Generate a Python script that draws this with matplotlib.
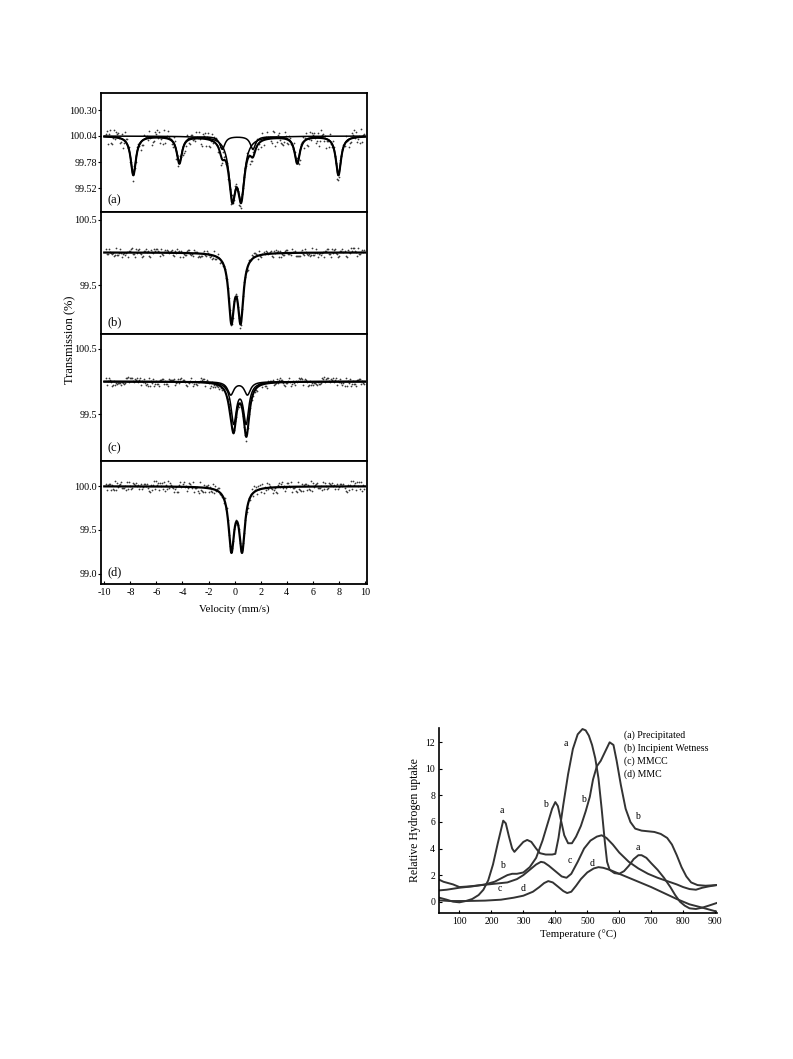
import numpy as np
import matplotlib
matplotlib.use("Agg")
import matplotlib.pyplot as plt

plt.rcParams["font.family"] = ["Liberation Serif", "DejaVu Serif"]

# ── Mössbauer spectra: Lorentzian fit parameters ─────────────────────────────
# (position mm/s, depth %, half width mm/s)
VEL_TICKS = [-10, -8, -6, -4, -2, 0, 2, 4, 6, 8, 10]

A_BASE = 100.04
A_SEXTET_POS = [-7.77, -4.24, -0.95, 1.40, 4.80, 7.96]
A_SEXTET_DEPTH = [0.39, 0.27, 0.13, 0.13, 0.27, 0.39]
A_SEXTET_HW = 0.24
A_DOUBLET_POS = [-0.18, 0.50]
A_DOUBLET_DEPTH = [0.56, 0.56]
A_DOUBLET_HW = 0.31
A_YTICKS = [99.52, 99.78, 100.04, 100.30]
A_YLIM = (99.28, 100.47)

B_BASE = 100.0
B_POS = [-0.25, 0.46]
B_DEPTH = [0.99, 0.99]
B_HW = 0.255
B_YTICKS = [99.5, 100.5]
B_YLIM = (98.75, 100.62)

C_BASE = 100.0
C_MAIN_POS = [-0.07, 0.88]
C_MAIN_DEPTH = [0.62, 0.62]
C_MAIN_HW = 0.25
C_MINOR_POS = [-0.30, 0.98]
C_MINOR_DEPTH = [0.20, 0.20]
C_MINOR_HW = 0.28
C_YTICKS = [99.5, 100.5]
C_YLIM = (98.78, 100.73)

D_BASE = 100.0
D_POS = [-0.25, 0.57]
D_DEPTH = [0.70, 0.70]
D_HW = 0.26
D_YTICKS = [99.0, 99.5, 100.0]
D_YLIM = (98.88, 100.29)

# hand-typed scatter of the counting data around the fit (in units of the noise level)
NOISE = [0.3, -0.6, 0.9, -0.2, 0.1, -0.9, 0.5, 0.7, -0.4, -0.1, 0.8, -0.7, 0.2,
         0.4, -0.8, 0.6, -0.3, 0.0, 0.9, -0.5, -0.2, 0.3, -1.0, 0.7, 0.1, -0.6,
         0.4, -0.1, 0.8, -0.4, 0.5, -0.9, 0.2, 0.6, -0.3, -0.7, 1.0, 0.0, -0.5,
         0.3, -0.2, 0.7, -0.8, 0.4, 0.1, -0.4, 0.9, -0.6, 0.2, -0.1, 0.5, -0.9,
         0.6, 0.3, -0.7, 0.0, 0.8, -0.3, -0.5, 0.4, 0.1, -0.8, 0.7, -0.2, 0.3,
         -0.6, 0.9, 0.2, -0.4, -0.1, 0.6, -1.0, 0.5, 0.0, -0.3, 0.8, -0.7, 0.4,
         -0.2, 0.1, 0.7, -0.5, 0.3, -0.9, 0.6, -0.1, 0.2, -0.6, 0.9, -0.4, 0.5,
         0.0, -0.8, 0.3, -0.2, 0.7, -0.5]
NOISE_LEVEL = [0.085, 0.07, 0.07, 0.065]
N_CHANNELS = 256

# ── TPR profiles (temperature °C, relative H2 uptake) ───────────────────────
T_A = [37, 60, 80, 100, 120, 140, 160, 175, 190, 205, 220, 230, 237, 245, 255,
       265, 272, 285, 300, 312, 325, 340, 352, 370, 390, 400, 410, 425, 440,
       455, 470, 485, 495, 505, 515, 525, 535, 545, 555, 562, 570, 585, 600,
       615, 630, 645, 660, 670, 685, 700, 720, 740, 760, 775, 790, 805, 820,
       840, 860, 880, 905]
H_A = [0.3, 0.15, 0.0, -0.05, 0.05, 0.2, 0.5, 0.9, 1.6, 2.8, 4.4, 5.4, 6.1, 5.9,
       4.9, 4.0, 3.75, 4.1, 4.5, 4.65, 4.5, 4.0, 3.65, 3.55, 3.55, 3.6, 4.8,
       7.3, 9.6, 11.5, 12.6, 13.0, 12.9, 12.5, 11.8, 10.8, 9.3, 7.0, 4.5, 3.0,
       2.4, 2.15, 2.1, 2.3, 2.7, 3.2, 3.5, 3.5, 3.3, 2.9, 2.4, 1.8, 1.1, 0.5,
       0.0, -0.3, -0.5, -0.55, -0.45, -0.3, -0.1]

T_B = [37, 60, 100, 140, 180, 210, 230, 250, 265, 280, 300, 320, 340, 360, 375,
       390, 400, 408, 418, 428, 440, 452, 465, 480, 495, 508, 518, 530, 542,
       556, 570, 582, 592, 605, 620, 635, 650, 670, 690, 710, 730, 750, 765,
       780, 795, 810, 825, 845, 870, 905]
H_B = [0.85, 0.9, 1.05, 1.15, 1.3, 1.5, 1.75, 2.0, 2.1, 2.1, 2.2, 2.6, 3.3, 4.6,
       5.8, 7.0, 7.5, 7.2, 6.1, 5.0, 4.4, 4.4, 4.9, 5.7, 6.8, 7.9, 9.2, 10.2,
       10.6, 11.3, 12.0, 11.8, 10.6, 8.8, 7.0, 6.0, 5.5, 5.35, 5.3, 5.25, 5.1,
       4.8, 4.3, 3.5, 2.6, 1.9, 1.45, 1.25, 1.2, 1.25]

T_C = [37, 50, 65, 80, 100, 130, 170, 210, 250, 280, 300, 320, 340, 355, 365,
       380, 400, 420, 435, 450, 470, 490, 510, 530, 545, 560, 580, 600, 630,
       660, 690, 720, 750, 780, 800, 820, 840, 860, 880, 905]
H_C = [1.65, 1.5, 1.4, 1.3, 1.1, 1.15, 1.25, 1.35, 1.45, 1.7, 2.0, 2.4, 2.8, 3.0,
       2.95, 2.7, 2.3, 1.9, 1.8, 2.1, 3.0, 4.0, 4.6, 4.9, 5.0, 4.8, 4.3, 3.7,
       3.0, 2.5, 2.1, 1.8, 1.55, 1.3, 1.1, 0.95, 0.9, 1.05, 1.15, 1.25]

T_D = [37, 70, 120, 180, 230, 270, 300, 330, 350, 365, 378, 392, 410, 425, 437,
       450, 465, 480, 500, 520, 535, 550, 570, 600, 630, 660, 700, 740, 780,
       820, 860, 905]
H_D = [0.1, 0.05, 0.05, 0.08, 0.15, 0.3, 0.45, 0.75, 1.1, 1.4, 1.55, 1.45, 1.1,
       0.8, 0.65, 0.75, 1.2, 1.7, 2.2, 2.5, 2.6, 2.55, 2.4, 2.1, 1.8, 1.5, 1.1,
       0.65, 0.2, -0.2, -0.45, -0.75]

LEGEND_LINES = ["(a) Precipitated", "(b) Incipient Wetness", "(c) MMCC", "(d) MMC"]
# curve letters placed on the plot: (letter, T, uptake)
CURVE_LABELS = [("a", 233, 6.9), ("a", 433, 11.9), ("a", 657, 4.1),
                ("b", 234, 2.7), ("b", 370, 7.3), ("b", 488, 7.7), ("b", 657, 6.4),
                ("c", 444, 3.1), ("c", 227, 1.0), ("d", 298, 1.0), ("d", 514, 2.9)]
TPR_XTICKS = [100, 200, 300, 400, 500, 600, 700, 800, 900]
TPR_YTICKS = [0, 2, 4, 6, 8, 10, 12]


def lorentz(v, pos, depth, hw):
    out = np.zeros_like(v)
    for p, d in zip(pos, depth):
        out += d * hw**2 / ((v - p)**2 + hw**2)
    return out


fig = plt.figure(figsize=(7.93, 10.59), dpi=100)
W, H = 793, 1059


def px_axes(x0, y0, x1, y1):
    return fig.add_axes([x0 / W, 1 - y1 / H, (x1 - x0) / W, (y1 - y0) / H])


v = np.linspace(-10, 10, 1200)
vch = np.linspace(-9.9, 9.9, N_CHANNELS)

panels = [(93, 212), (212, 334), (334, 461), (461, 584)]
axs = [px_axes(101, t, 367, b) for t, b in panels]


def noise_for(k):
    step = [7, 11, 13, 17][k]
    off = [0, 23, 41, 59][k]
    n = np.array([NOISE[(i * step + off) % len(NOISE)] for i in range(N_CHANNELS)])
    return n * NOISE_LEVEL[k]


DOT = dict(s=1.6, color="#3a3a3a", lw=0)

# (a)
sext = lorentz(v, A_SEXTET_POS, A_SEXTET_DEPTH, A_SEXTET_HW)
doub = lorentz(v, A_DOUBLET_POS, A_DOUBLET_DEPTH, A_DOUBLET_HW)
tot_ch = A_BASE - lorentz(vch, A_SEXTET_POS, A_SEXTET_DEPTH, A_SEXTET_HW) \
    - lorentz(vch, A_DOUBLET_POS, A_DOUBLET_DEPTH, A_DOUBLET_HW)
ax = axs[0]
ax.scatter(vch, tot_ch + noise_for(0), **DOT)
ax.plot(v, A_BASE - sext, color="black", lw=1.1)
ax.plot(v, A_BASE - doub, color="black", lw=1.1)
ax.plot(v, A_BASE - sext - doub, color="black", lw=1.5)
ax.set_ylim(*A_YLIM)
ax.set_yticks(A_YTICKS)
ax.set_yticklabels([f"{t:.2f}" for t in A_YTICKS])

# (b)
ax = axs[1]
ax.scatter(vch, B_BASE - lorentz(vch, B_POS, B_DEPTH, B_HW) + noise_for(1), **DOT)
ax.plot(v, B_BASE - lorentz(v, B_POS, B_DEPTH, B_HW), color="black", lw=1.6)
ax.set_ylim(*B_YLIM)
ax.set_yticks(B_YTICKS)
ax.set_yticklabels([f"{t:.1f}" for t in B_YTICKS])

# (c)
ax = axs[2]
cmain = lorentz(v, C_MAIN_POS, C_MAIN_DEPTH, C_MAIN_HW)
cmin = lorentz(v, C_MINOR_POS, C_MINOR_DEPTH, C_MINOR_HW)
c_ch = C_BASE - lorentz(vch, C_MAIN_POS, C_MAIN_DEPTH, C_MAIN_HW) \
    - lorentz(vch, C_MINOR_POS, C_MINOR_DEPTH, C_MINOR_HW)
ax.scatter(vch, c_ch + noise_for(2), **DOT)
ax.plot(v, C_BASE - cmin, color="black", lw=1.1)
ax.plot(v, C_BASE - cmain, color="black", lw=1.1)
ax.plot(v, C_BASE - cmain - cmin, color="black", lw=1.5)
ax.set_ylim(*C_YLIM)
ax.set_yticks(C_YTICKS)
ax.set_yticklabels([f"{t:.1f}" for t in C_YTICKS])

# (d)
ax = axs[3]
ax.scatter(vch, D_BASE - lorentz(vch, D_POS, D_DEPTH, D_HW) + noise_for(3), **DOT)
ax.plot(v, D_BASE - lorentz(v, D_POS, D_DEPTH, D_HW), color="black", lw=1.6)
ax.set_ylim(*D_YLIM)
ax.set_yticks(D_YTICKS)
ax.set_yticklabels([f"{t:.1f}" for t in D_YTICKS])

for k, ax in enumerate(axs):
    ax.set_xlim(-10.25, 10.15)
    ax.set_xticks(VEL_TICKS)
    ax.tick_params(axis="y", direction="out", length=2, width=0.8, labelsize=7.3,
                   pad=1)
    ax.tick_params(axis="x", direction="in", length=2.5, width=0.8, labelsize=7.3,
                   pad=3, bottom=(k == 3), labelbottom=(k == 3))
    for sp in ax.spines.values():
        sp.set_linewidth(1.3)
    ax.text(0.025, 0.05, f"({'abcd'[k]})", transform=ax.transAxes, fontsize=9,
            ha="left", va="bottom")
axs[3].set_xticklabels([str(t) for t in VEL_TICKS])
axs[3].set_xlabel("Velocity (mm/s)", fontsize=7.8, labelpad=5)
fig.text(70 / W, 1 - 340 / H, "Transmission (%)", rotation=90, fontsize=9,
         ha="center", va="center")

# ── TPR plot ────────────────────────────────────────────────────────────────
ax = px_axes(439.3, 727.7, 716.7, 912.7)
for T, Hh in [(T_A, H_A), (T_B, H_B), (T_C, H_C), (T_D, H_D)]:
    ax.plot(T, Hh, color="#333333", lw=1.4)
ax.set_xlim(37, 905)
ax.set_ylim(-0.83, 13.1)
ax.set_xticks(TPR_XTICKS)
ax.set_yticks(TPR_YTICKS)
ax.spines["top"].set_visible(False)
ax.spines["right"].set_visible(False)
for sp in ["left", "bottom"]:
    ax.spines[sp].set_linewidth(1.2)
ax.tick_params(direction="in", length=2.5, width=0.8, labelsize=7, pad=3)
ax.set_xlabel("Temperature (°C)", fontsize=7.8, labelpad=3)
ax.set_ylabel("Relative Hydrogen uptake", fontsize=8.5, labelpad=3)
for lab, T, Hh in CURVE_LABELS:
    ax.text(T, Hh, lab, fontsize=7, ha="center", va="center")
for i, line in enumerate(LEGEND_LINES):
    ax.text(0.665, 0.985 - i * 0.07, line, transform=ax.transAxes,
            fontsize=7.1, ha="left", va="top")

fig.savefig("out.png", dpi=100)
